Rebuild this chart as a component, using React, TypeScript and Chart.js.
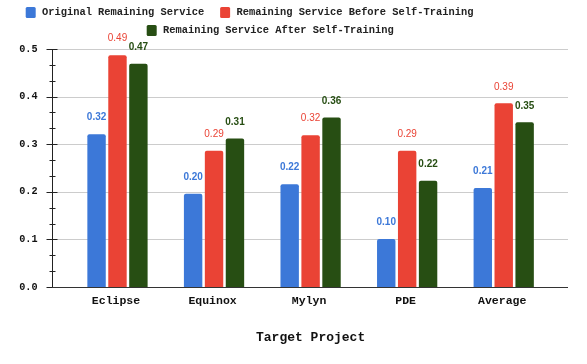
import React, { useEffect, useRef } from "react";
import { Chart, registerables } from "chart.js";
Chart.register(...registerables);

const categories = ["Eclipse", "Equinox", "Mylyn", "PDE", "Average"];
const seriesNames = [
  "Original Remaining Service",
  "Remaining Service Before Self-Training",
  "Remaining Service After Self-Training",
];
const originalRemaining = [0.321, 0.196, 0.216, 0.101, 0.208];
const beforeSelfTraining = [0.487, 0.286, 0.319, 0.286, 0.386];
const afterSelfTraining = [0.469, 0.312, 0.356, 0.223, 0.346];
const yTickValues = [0, 0.1, 0.2, 0.3, 0.4, 0.5];
const seriesColors = ["#3c78d8", "#ea4335", "#274e13"];
const xTitle = "Target Project";

const MONO = "'Liberation Mono', 'Courier New', monospace";
const SANS = "'Liberation Sans', Arial, sans-serif";
const AXIS_LEFT_GAP = 17.2;
const AXIS_RIGHT_GAP = 16;

const decoPlugin = {
  id: "deco",
  beforeDatasetsDraw(chart: any) {
    const { ctx, chartArea } = chart;
    const y = chart.scales.y;
    const axisX = chartArea.left - AXIS_LEFT_GAP;
    const right = chartArea.right + AXIS_RIGHT_GAP;
    ctx.save();
    ctx.lineWidth = 1;
    ctx.strokeStyle = "#cccccc";
    for (const v of yTickValues) {
      if (v === 0) continue;
      const py = Math.round(y.getPixelForValue(v)) + 0.5;
      ctx.beginPath();
      ctx.moveTo(axisX + 5, py);
      ctx.lineTo(right, py);
      ctx.stroke();
    }
    ctx.strokeStyle = "#222222";
    const maxV = yTickValues[yTickValues.length - 1];
    const step = (yTickValues[1] - yTickValues[0]) / 3;
    const n = Math.round(maxV / step);
    const ax = Math.round(axisX) + 0.5;
    for (let i = 0; i <= n; i++) {
      const py = Math.round(y.getPixelForValue(i * step)) + 0.5;
      const major = i % 3 === 0;
      ctx.beginPath();
      ctx.moveTo(ax - (major ? 6 : 3), py);
      ctx.lineTo(ax + (major ? 5 : 3), py);
      ctx.stroke();
    }
    ctx.beginPath();
    ctx.moveTo(ax, y.getPixelForValue(maxV));
    ctx.lineTo(ax, y.getPixelForValue(0));
    ctx.stroke();
    ctx.restore();
  },
  afterDatasetsDraw(chart: any) {
    const { ctx, chartArea } = chart;
    const y = chart.scales.y;
    const axisX = chartArea.left - AXIS_LEFT_GAP;
    const right = chartArea.right + AXIS_RIGHT_GAP;
    ctx.save();
    ctx.strokeStyle = "#333333";
    ctx.lineWidth = 1;
    const py = Math.round(y.getPixelForValue(0)) + 0.5;
    ctx.beginPath();
    ctx.moveTo(Math.round(axisX), py);
    ctx.lineTo(right, py);
    ctx.stroke();
    // data labels
    chart.data.datasets.forEach((ds: any, di: number) => {
      const meta = chart.getDatasetMeta(di);
      ctx.fillStyle = ds.backgroundColor;
      ctx.font = (di === 1 ? "" : "bold ") + "10px " + SANS;
      ctx.textAlign = "center";
      ctx.textBaseline = "middle";
      meta.data.forEach((bar: any, i: number) => {
        ctx.fillText(Number(ds.data[i]).toFixed(2), bar.x, bar.y - 16.5);
      });
    });
    // legend
    const rows = [
      { start: 25.7, y: 12.5, items: [0, 1] },
      { start: 146.7, y: 30.5, items: [2] },
    ];
    ctx.font = "bold 10.4px " + MONO;
    ctx.textAlign = "left";
    ctx.textBaseline = "middle";
    for (const row of rows) {
      let x = row.start;
      for (const idx of row.items) {
        const ds = chart.data.datasets[idx];
        ctx.fillStyle = ds.backgroundColor;
        ctx.beginPath();
        (ctx as any).roundRect(x, row.y - 5.5, 10, 11, 1.5);
        ctx.fill();
        ctx.fillStyle = "#222222";
        ctx.fillText(ds.label, x + 16.3, row.y);
        x += 16.3 + ctx.measureText(ds.label).width + 16;
      }
    }
    ctx.restore();
  },
};

export default function App() {
  const ref = useRef<HTMLCanvasElement>(null);
  useEffect(() => {
    const chart = new Chart(ref.current!, {
      type: "bar",
      data: {
        labels: categories,
        datasets: [originalRemaining, beforeSelfTraining, afterSelfTraining].map((d, i) => ({
          label: seriesNames[i],
          data: d,
          backgroundColor: seriesColors[i],
          borderRadius: { topLeft: 2, topRight: 2, bottomLeft: 0, bottomRight: 0 },
          borderSkipped: false,
          categoryPercentage: 0.65,
          barPercentage: 0.88,
        })),
      },
      options: {
        animation: false,
        responsive: true,
        maintainAspectRatio: false,
        layout: { padding: { top: 49, right: 35, bottom: 0, left: 0 } },
        plugins: { legend: { display: false }, tooltip: { enabled: false } },
        scales: {
          x: {
            grid: { display: false, drawTicks: false },
            border: { display: false },
            ticks: {
              color: "#111111",
              font: { family: MONO, size: 11.5, weight: "bold" },
              padding: 7,
              labelOffset: -1.5,
            },
            title: {
              display: true,
              text: xTitle,
              color: "#111111",
              font: { family: MONO, size: 13, weight: "bold" },
              padding: { top: 0, bottom: 18 },
            },
            afterFit(scale: any) {
              scale.height = 77;
            },
          },
          y: {
            min: 0,
            max: 0.5,
            grid: { display: false, drawTicks: false },
            border: { display: false },
            ticks: {
              stepSize: 0.1,
              color: "#111111",
              padding: 31.7,
              font: { family: MONO, size: 10.2, weight: "bold" },
              callback: (v: any) => Number(v).toFixed(1),
            },
            afterFit(scale: any) {
              scale.width = 69.2;
            },
          },
        },
      },
      plugins: [decoPlugin],
    });
    return () => chart.destroy();
  }, []);
  return (
    <div style={{ position: "absolute", left: 0, top: 0, width: 587, height: 364 }}>
      <canvas ref={ref} />
    </div>
  );
}
